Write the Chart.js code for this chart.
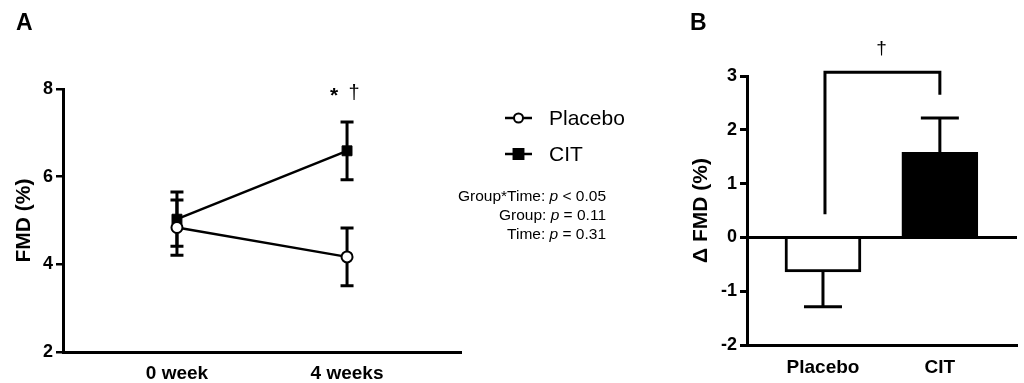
<!DOCTYPE html>
<html>
<head>
<meta charset="utf-8">
<script src="https://cdn.jsdelivr.net/npm/chart.js@4.4.1/dist/chart.umd.min.js"></script>
<style>
  html, body { margin: 0; padding: 0; background: #fff; }
  body { width: 1024px; height: 383px; position: relative; overflow: hidden; }
  canvas { position: absolute; top: 0; }
  #chartA { left: 0; }
  #chartB { left: 650px; }
</style>
</head>
<body>
<canvas id="chartA" width="640" height="383"></canvas>
<canvas id="chartB" width="374" height="383"></canvas>
<script>
// panel A data
const weeks = ['0 week', '4 weeks'];
const placeboFMD = [4.84, 4.17];
const placeboSEM = [0.63, 0.66];
const citFMD = [5.03, 6.59];
const citSEM = [0.62, 0.66];
const fmdTicks = [2, 4, 6, 8];
const statLines = [
  ['Group*Time: ', 'p', ' < 0.05'],
  ['Group: ', 'p', ' = 0.11'],
  ['Time: ', 'p', ' = 0.31']
];

// panel B data
const groups = ['Placebo', 'CIT'];
const deltaFMD = [-0.64, 1.58];
const deltaSEM = [0.65, 0.64];
const deltaTicks = [-2, -1, 0, 1, 2, 3];

const FONT = '"Liberation Sans", Arial, Helvetica, sans-serif';
Chart.defaults.font.family = FONT;
Chart.defaults.color = '#000';

// panel letters
function drawLetter(chart, txt, x) {
  const ctx = chart.ctx;
  ctx.save();
  ctx.font = 'bold 23px ' + FONT;
  ctx.fillStyle = '#000';
  ctx.textBaseline = 'alphabetic';
  ctx.fillText(txt, x, 30);
  ctx.restore();
}

// error bars for the line chart
const errorBarsA = {
  id: 'errorBarsA',
  beforeDatasetsDraw(chart) {
    const ctx = chart.ctx;
    const xs = chart.scales.x, ys = chart.scales.y;
    const series = [[placeboFMD, placeboSEM], [citFMD, citSEM]];
    ctx.save();
    ctx.strokeStyle = '#000';
    ctx.lineWidth = 3;
    series.forEach(([vals, errs]) => {
      vals.forEach((v, i) => {
        const px = xs.getPixelForValue(i);
        const top = ys.getPixelForValue(v + errs[i]);
        const bot = ys.getPixelForValue(v - errs[i]);
        ctx.beginPath();
        ctx.moveTo(px, top); ctx.lineTo(px, bot);
        ctx.moveTo(px - 6.5, top); ctx.lineTo(px + 6.5, top);
        ctx.moveTo(px - 6.5, bot); ctx.lineTo(px + 6.5, bot);
        ctx.stroke();
      });
    });
    ctx.restore();
  }
};

// legend, stats text, significance marks
const extrasA = {
  id: 'extrasA',
  afterDraw(chart) {
    const ctx = chart.ctx;
    const xs = chart.scales.x, ys = chart.scales.y;
    drawLetter(chart, 'A', 16);

    // * and dagger above 4 weeks
    ctx.save();
    ctx.fillStyle = '#000';
    ctx.textAlign = 'center';
    ctx.textBaseline = 'middle';
    const px = xs.getPixelForValue(1);
    const py = ys.getPixelForValue(7.9);
    ctx.font = 'bold 21px ' + FONT;
    ctx.fillText('*', px - 13, py + 3);
    ctx.font = '20px ' + FONT;
    ctx.fillText('\u2020', px + 7, py);

    // legend
    const items = chart.data.datasets;
    items.forEach((ds, k) => {
      const y = 118 + k * 36;
      ctx.strokeStyle = '#000';
      ctx.lineWidth = 2.5;
      ctx.beginPath();
      ctx.moveTo(505, y); ctx.lineTo(532, y);
      ctx.stroke();
      ctx.fillStyle = ds.pointBackgroundColor;
      ctx.lineWidth = 2;
      ctx.beginPath();
      if (ds.pointStyle === 'circle') {
        ctx.arc(518.5, y, ds.pointRadius - 1, 0, Math.PI * 2);
      } else {
        const s = ds.pointRadius * Math.SQRT1_2;
        ctx.rect(518.5 - s, y - s, 2 * s, 2 * s);
      }
      ctx.fill();
      ctx.stroke();
      ctx.fillStyle = '#000';
      ctx.textAlign = 'left';
      ctx.textBaseline = 'middle';
      ctx.font = '21px ' + FONT;
      ctx.fillText(ds.label, 549, y + 1);
    });

    // ANOVA text, right aligned
    ctx.textBaseline = 'middle';
    ctx.textAlign = 'left';
    statLines.forEach((parts, k) => {
      const y = 197 + k * 19;
      const fonts = ['15.5px ' + FONT, 'italic 15.5px ' + FONT, '15.5px ' + FONT];
      let w = 0;
      parts.forEach((p, j) => { ctx.font = fonts[j]; w += ctx.measureText(p).width; });
      let x = 606 - w;
      parts.forEach((p, j) => {
        ctx.font = fonts[j];
        ctx.fillText(p, x, y);
        x += ctx.measureText(p).width;
      });
    });
    ctx.restore();
  }
};

new Chart(document.getElementById('chartA'), {
  type: 'line',
  data: {
    datasets: [
      {
        label: 'Placebo',
        data: weeks.map((w, i) => ({ x: i, y: placeboFMD[i] })),
        borderColor: '#000',
        borderWidth: 2.5,
        pointStyle: 'circle',
        pointRadius: 5.5,
        pointBackgroundColor: '#fff',
        pointBorderColor: '#000',
        pointBorderWidth: 2
      },
      {
        label: 'CIT',
        data: weeks.map((w, i) => ({ x: i, y: citFMD[i] })),
        borderColor: '#000',
        borderWidth: 2.5,
        pointStyle: 'rect',
        pointRadius: 7,
        pointBackgroundColor: '#000',
        pointBorderColor: '#000',
        pointBorderWidth: 1
      }
    ]
  },
  options: {
    responsive: false,
    animation: false,
    layout: { padding: { left: 12, top: 89, right: 179, bottom: 0 } },
    plugins: { legend: { display: false }, tooltip: { enabled: false } },
    scales: {
      x: {
        type: 'linear',
        min: -0.67,
        max: 1.67,
        offset: false,
        grid: { display: false, drawTicks: false },
        border: { color: '#000', width: 3 },
        ticks: {
          padding: 10,
          font: { size: 19, weight: 'bold' },
          callback: v => weeks[v]
        },
        afterBuildTicks: s => { s.ticks = weeks.map((w, i) => ({ value: i })); },
        afterFit: s => { s.height = 31; }
      },
      y: {
        min: 2,
        max: 8,
        grid: { drawOnChartArea: false, color: '#000', lineWidth: 2.5, tickLength: 7 },
        border: { color: '#000', width: 3 },
        ticks: { padding: 3, font: { size: 18, weight: 'bold' } },
        afterBuildTicks: s => { s.ticks = fmdTicks.map(v => ({ value: v })); },
        title: { display: true, text: 'FMD (%)', font: { size: 21, weight: 'bold' }, padding: 0 },
        afterFit: s => { s.width = 51; }
      }
    }
  },
  plugins: [errorBarsA, extrasA]
});

// panel B: one-sided error bars and the bracket
const extrasB = {
  id: 'extrasB',
  afterDatasetsDraw(chart) {
    const ctx = chart.ctx;
    const xs = chart.scales.x, ys = chart.scales.y;
    ctx.save();
    ctx.strokeStyle = '#000';
    ctx.lineWidth = 3;
    deltaFMD.forEach((v, i) => {
      const px = xs.getPixelForValue(i);
      const from = ys.getPixelForValue(v);
      const to = ys.getPixelForValue(v + Math.sign(v) * deltaSEM[i]);
      ctx.beginPath();
      ctx.moveTo(px, from); ctx.lineTo(px, to);
      ctx.moveTo(px - 19, to); ctx.lineTo(px + 19, to);
      ctx.stroke();
    });
    ctx.restore();
  },
  afterDraw(chart) {
    const ctx = chart.ctx;
    const xs = chart.scales.x, ys = chart.scales.y;
    drawLetter(chart, 'B', 40);
    const x0 = xs.getPixelForValue(0), x1 = xs.getPixelForValue(1);
    const yTop = ys.getPixelForValue(3.07);
    ctx.save();
    ctx.strokeStyle = '#000';
    ctx.lineWidth = 3;
    ctx.beginPath();
    ctx.moveTo(x0 + 2, ys.getPixelForValue(0.43));
    ctx.lineTo(x0 + 2, yTop);
    ctx.lineTo(x1, yTop);
    ctx.lineTo(x1, ys.getPixelForValue(2.65));
    ctx.stroke();
    ctx.fillStyle = '#000';
    ctx.font = '19px ' + FONT;
    ctx.textAlign = 'center';
    ctx.textBaseline = 'middle';
    ctx.fillText('\u2020', (x0 + x1) / 2, ys.getPixelForValue(3.5));
    ctx.restore();
  }
};

new Chart(document.getElementById('chartB'), {
  type: 'bar',
  data: {
    datasets: [{
      data: groups.map((g, i) => ({ x: i, y: deltaFMD[i] })),
      backgroundColor: ['#fff', '#000'],
      borderColor: '#000',
      borderWidth: 3,
      barThickness: 76
    }]
  },
  options: {
    responsive: false,
    animation: false,
    layout: { padding: { left: 39, top: 76, right: 7, bottom: 0 } },
    plugins: { legend: { display: false }, tooltip: { enabled: false } },
    scales: {
      x: {
        type: 'linear',
        min: -0.65,
        max: 1.66,
        offset: false,
        grid: { display: false, drawTicks: false },
        border: { color: '#000', width: 3 },
        ticks: {
          padding: 11,
          font: { size: 19, weight: 'bold' },
          callback: v => groups[v]
        },
        afterBuildTicks: s => { s.ticks = groups.map((g, i) => ({ value: i })); },
        afterFit: s => { s.height = 38; }
      },
      y: {
        min: -2,
        max: 3,
        grid: {
          color: c => (c.tick && c.tick.value === 0 ? '#000' : 'rgba(0,0,0,0)'),
          tickColor: '#000',
          lineWidth: 3,
          tickLength: 7
        },
        border: { color: '#000', width: 3 },
        ticks: { padding: 3, font: { size: 18, weight: 'bold' } },
        afterBuildTicks: s => { s.ticks = deltaTicks.map(v => ({ value: v })); },
        title: { display: true, text: '\u0394 FMD (%)', font: { size: 21, weight: 'bold' }, padding: 0 },
        afterFit: s => { s.width = 58; }
      }
    }
  },
  plugins: [extrasB]
});
</script>
</body>
</html>
